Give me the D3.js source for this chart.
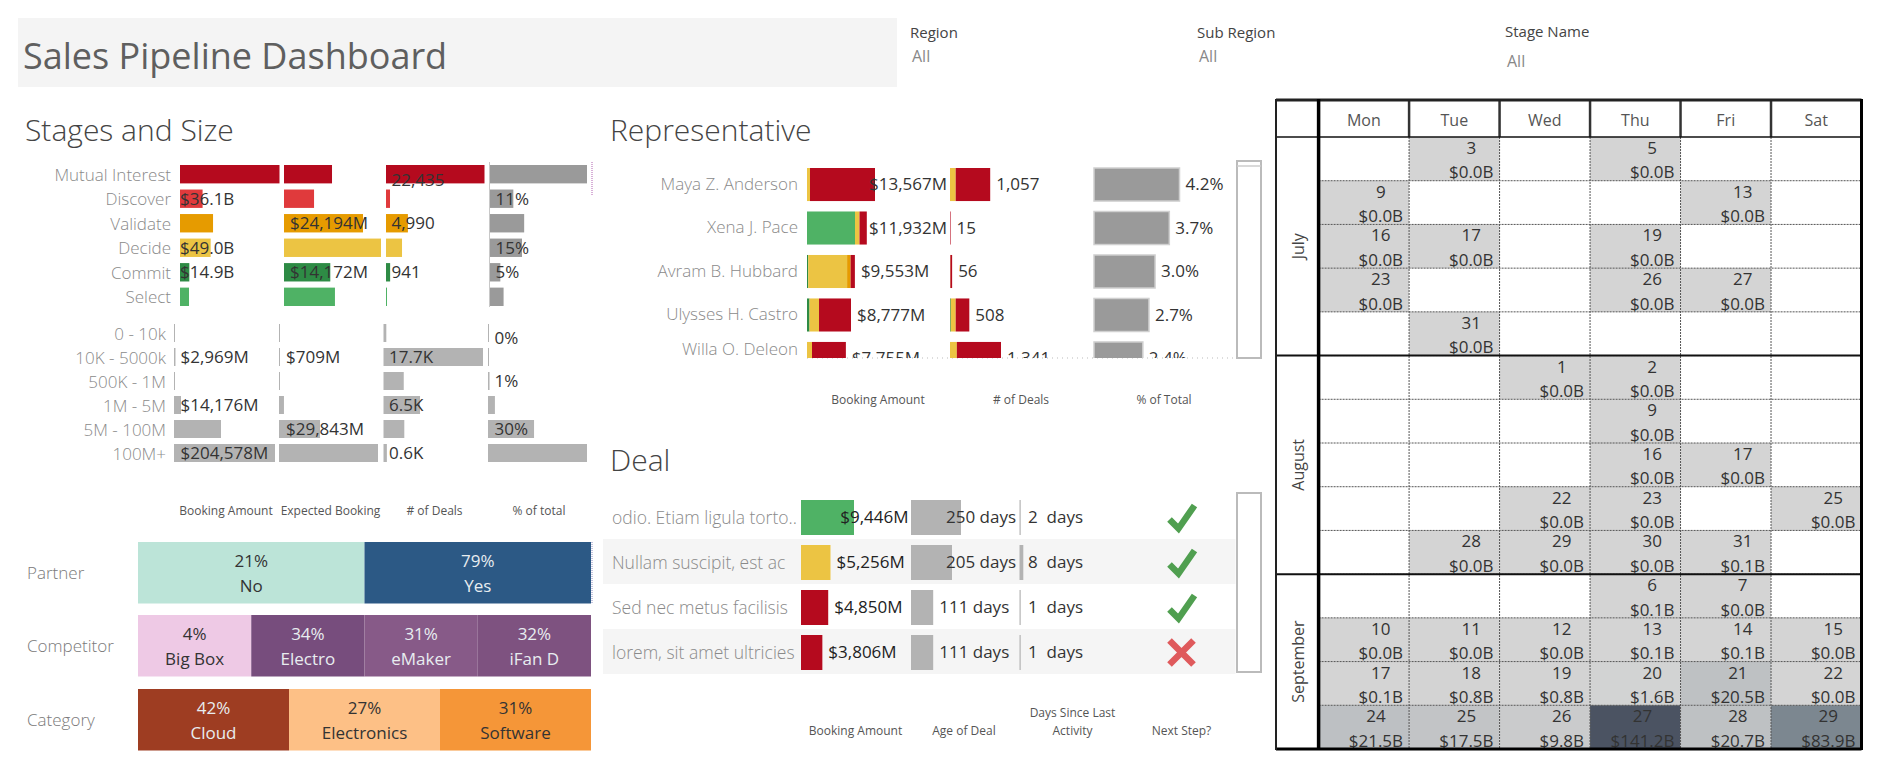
<!DOCTYPE html>
<html>
<head>
<meta charset="utf-8">
<title>Sales Pipeline Dashboard</title>
<script src="https://d3js.org/d3.v7.min.js"></script>
<style>
    body { margin: 0; background: #fff; }
    svg { display: block; font-family: "Open Sans", sans-serif; }
    text { font-size: 17px; fill: #333; }
    .rowname text, text.rowname { fill: #8a8a8a; font-weight: 300; }
    text.rowname { font-size: 17.5px; }
    .title { font-size: 30px; fill: #444; font-weight: 300; }
    .head { font-size: 12px; fill: #555; text-anchor: middle; }
    .axis path, .axis line { display: none; }
</style>
</head>
<body>
<div id="chart"></div>
<script>
// Stages and Size
var stages = ['Mutual Interest', 'Discover', 'Validate', 'Decide', 'Commit', 'Select'];
var stageColors = ['#b50a1e', '#e03a3c', '#e69b00', '#ecc443', '#2e8b45', '#4fb265'];
var stageBooking = [159, 36.1, 52.8, 49.0, 14.9, 14.4];
var stageExpected = [14700, 9200, 24194, 29700, 14172, 15600];
var stageDeals = [22435, 912, 4990, 3650, 941, 228];
var stageShare = [45, 11, 16, 15, 5, 6.5];
var stageBookingLabels = [null, '$36.1B', null, '$49.0B', '$14.9B', null];
var stageExpectedLabels = [null, null, '$24,194M', null, '$14,172M', null];
var stageDealLabels = ['22,435', null, '4,990', null, '941', null];
var stageShareLabels = [null, '11%', null, '15%', '5%', null];

var sizes = ['0 - 10k', '10K - 5000k', '500K - 1M', '1M - 5M', '5M - 100M', '100M+'];
var sizeBooking = [100, 2969, 900, 14176, 95200, 204578];
var sizeExpected = [40, 709, 300, 3600, 29843, 72000];
var sizeDeals = [500, 17700, 3600, 6500, 3700, 600];
var sizeShare = [0, 0.4, 1, 4.5, 30, 64.5];
var sizeBookingLabels = [null, '$2,969M', null, '$14,176M', null, '$204,578M'];
var sizeExpectedLabels = [null, '$709M', null, null, '$29,843M', null];
var sizeDealLabels = [null, '17.7K', null, '6.5K', null, '0.6K'];
var sizeShareLabels = ['0%', null, '1%', null, '30%', null];

// Highlight strips
var partnerNames = ['No', 'Yes'];
var partnerShare = ['21%', '79%'];
var partnerColors = ['#bce4d8', '#2c5985'];
var competitorNames = ['Big Box', 'Electro', 'eMaker', 'iFan D'];
var competitorShare = ['4%', '34%', '31%', '32%'];
var competitorColors = ['#eec9e5', '#774d7d', '#875a88', '#7e5280'];
var categoryNames = ['Cloud', 'Electronics', 'Software'];
var categoryShare = ['42%', '27%', '31%'];
var categoryColors = ['#9e3d22', '#fdc086', '#f59638'];

// Representative
var reps = ['Maya Z. Anderson', 'Xena J. Pace', 'Avram B. Hubbard', 'Ulysses H. Castro', 'Willa O. Deleon'];
var repStages = ['Select', 'Commit', 'Decide', 'Validate', 'Mutual Interest'];
var repBookingSelect = [0, 9576, 0, 0, 0];
var repBookingCommit = [0, 0, 250, 500, 0];
var repBookingDecide = [600, 900, 7750, 1900, 1000];
var repBookingValidate = [0, 0, 700, 0, 0];
var repBookingMutual = [12967, 1456, 853, 6377, 6755];
var repDealsSelect = [0, 0, 0, 0, 0];
var repDealsCommit = [0, 0, 1, 20, 0];
var repDealsDecide = [150, 0, 9, 130, 180];
var repDealsValidate = [0, 0, 0, 0, 0];
var repDealsMutual = [907, 15, 46, 358, 1161];
var repShare = [4.2, 3.7, 3.0, 2.7, 2.4];
var repBookingLabels = ['$13,567M', '$11,932M', '$9,553M', '$8,777M', '$7,755M'];
var repDealLabels = ['1,057', '15', '56', '508', '1,341'];
var repShareLabels = ['4.2%', '3.7%', '3.0%', '2.7%', '2.4%'];

// Deal
var deals = ['odio. Etiam ligula torto..', 'Nullam suscipit, est ac', 'Sed nec metus facilisis', 'lorem, sit amet ultricies'];
var dealBooking = [9446, 5256, 4850, 3806];
var dealColors = ['#4fb265', '#ecc443', '#b50a1e', '#b50a1e'];
var dealAge = [250, 205, 111, 111];
var dealSince = [2, 8, 1, 1];
var dealNext = [true, true, true, false];

// Calendar, one entry per filled cell
var weekdays = ['Mon', 'Tue', 'Wed', 'Thu', 'Fri', 'Sat'];
var months = ['July', 'August', 'September'];
var monthWeeks = [5, 5, 4];
var calWeek = [0, 0, 1, 1, 2, 2, 2, 3, 3, 3, 4,
    5, 5, 6, 7, 7, 8, 8, 8, 9, 9, 9, 9,
    10, 10, 11, 11, 11, 11, 11, 11, 12, 12, 12, 12, 12, 12, 13, 13, 13, 13, 13, 13];
var calDay = [1, 3, 0, 4, 0, 1, 3, 0, 3, 4, 1,
    2, 3, 3, 3, 4, 2, 3, 5, 1, 2, 3, 4,
    3, 4, 0, 1, 2, 3, 4, 5, 0, 1, 2, 3, 4, 5, 0, 1, 2, 3, 4, 5];
var calDate = [3, 5, 9, 13, 16, 17, 19, 23, 26, 27, 31,
    1, 2, 9, 16, 17, 22, 23, 25, 28, 29, 30, 31,
    6, 7, 10, 11, 12, 13, 14, 15, 17, 18, 19, 20, 21, 22, 24, 25, 26, 27, 28, 29];
var calAmount = [0, 0, 0, 0, 0, 0, 0, 0, 0, 0, 0,
    0, 0, 0, 0, 0, 0, 0, 0, 0, 0, 0, 0.1,
    0.1, 0, 0, 0, 0, 0.1, 0.1, 0, 0.1, 0.8, 0.8, 1.6, 20.5, 0, 21.5, 17.5, 9.8, 141.2, 20.7, 83.9];

var svg = d3.select('#chart').append('svg')
    .attr('width', 1880)
    .attr('height', 767);

function title(text, x, y) {
    svg.append('text').attr('class', 'title').attr('x', x).attr('y', y)
        .attr('dy', '0.35em').text(text);
}

function head(text, x, y) {
    svg.append('text').attr('class', 'head').attr('x', x).attr('y', y)
        .attr('dy', '0.35em').text(text);
}

// Row names go through a left axis without line or ticks.
function rowNames(scale, x, shift) {
    return svg.append('g').attr('class', 'axis rowname')
        .attr('transform', 'translate(' + x + ',' + shift + ')')
        .call(d3.axisLeft(scale).tickSize(0).tickPadding(0))
        .attr('font-family', null)
        .attr('font-size', null);
}

// One column of plain bars. Returns the x scale so labels can use it.
function barColumn(parent, rows, names, values, start, width, color, minWidth) {
    var x = d3.scaleLinear().domain([0, d3.max(values)]).range([start, start + width]);
    parent.append('g').selectAll('rect')
        .data(values)
        .join('rect')
        .attr('x', start)
        .attr('y', function (d, i) { return rows(names[i]); })
        .attr('width', function (d) { return Math.max(x(d) - start, minWidth); })
        .attr('height', rows.bandwidth())
        .attr('fill', function (d, i) { return typeof color === 'string' ? color : color[i]; });
    return x;
}

// shifts moves single labels off the bar centre, as some sit lower in the source.
function fixedLabels(parent, rows, names, labels, x, shifts) {
    parent.append('g').selectAll('text')
        .data(labels)
        .join('text')
        .attr('x', x)
        .attr('y', function (d, i) {
            return rows(names[i]) + rows.bandwidth() / 2 + (shifts ? shifts[i] : 0);
        })
        .attr('dy', '0.35em')
        .text(function (d) { return d; });
}

// Label sits after the bar, but is pushed back so it stops at the column limit.
function endLabels(parent, rows, names, labels, x, values, limit, fill) {
    parent.append('g').selectAll('text')
        .data(labels)
        .join('text')
        .attr('y', function (d, i) { return rows(names[i]) + rows.bandwidth() / 2; })
        .attr('dy', '0.35em')
        .style('fill', fill || null)
        .text(function (d) { return d; })
        .attr('x', function (d, i) {
            var after = x(values[i]) + 6;
            return Math.min(after, limit - this.getComputedTextLength());
        });
}

function stackColumn(parent, rows, names, series, start, width) {
    var table = names.map(function (name, i) {
        var row = {};
        repStages.forEach(function (stage, s) { row[stage] = series[s][i]; });
        return row;
    });
    var stacked = d3.stack().keys(repStages)(table);
    var x = d3.scaleLinear()
        .domain([0, d3.max(stacked[stacked.length - 1], function (d) { return d[1]; })])
        .range([start, start + width]);
    var color = d3.scaleOrdinal().domain(stages).range(stageColors);
    var layer = parent.append('g').selectAll('g')
        .data(stacked)
        .join('g')
        .attr('fill', function (d) { return color(d.key); });
    layer.selectAll('rect')
        .data(function (d) { return d; })
        .join('rect')
        .attr('x', function (d) { return x(d[0]); })
        .attr('y', function (d, i) { return rows(names[i]); })
        .attr('width', function (d) { return x(d[1]) - x(d[0]); })
        .attr('height', rows.bandwidth());
    return x;
}

// Header
svg.append('rect').attr('x', 18).attr('y', 18).attr('width', 879).attr('height', 69).attr('fill', '#f4f4f4');
svg.append('text').attr('x', 23).attr('y', 56).attr('dy', '0.35em')
    .style('font-size', '36px').style('fill', '#5f5f5f').text('Sales Pipeline Dashboard');

var filterNames = ['Region', 'Sub Region', 'Stage Name'];
var filterX = d3.scaleOrdinal().domain(filterNames).range([910, 1197, 1505]);
var filterY = d3.scaleOrdinal().domain(filterNames).range([33, 33, 32]);
var filterAllY = d3.scaleOrdinal().domain(filterNames).range([56, 56, 61]);
filterNames.forEach(function (name) {
    svg.append('text').attr('x', filterX(name)).attr('y', filterY(name)).attr('dy', '0.35em')
        .style('font-size', '15px').style('fill', '#444').text(name);
    svg.append('text').attr('x', filterX(name) + 2).attr('y', filterAllY(name)).attr('dy', '0.35em')
        .style('font-size', '16px').style('fill', '#888').text('All');
});

// Stages and Size
title('Stages and Size', 25, 130);

var stageRows = d3.scaleBand().domain(stages).range([165, 306]).paddingInner(0.25);
rowNames(stageRows, 171, 1);
var stageG = svg.append('g');
barColumn(stageG, stageRows, stages, stageBooking, 180, 99.5, stageColors, 1);
barColumn(stageG, stageRows, stages, stageExpected, 284, 97, stageColors, 1);
barColumn(stageG, stageRows, stages, stageDeals, 386, 98.5, stageColors, 1);
barColumn(stageG, stageRows, stages, stageShare, 489.5, 97.5, '#9a9a9a', 1);
svg.append('line').attr('x1', 489.5).attr('x2', 489.5).attr('y1', 162).attr('y2', 307)
    .attr('stroke', '#c8c8c8');
svg.append('line').attr('x1', 592).attr('x2', 592).attr('y1', 162).attr('y2', 195)
    .attr('stroke', '#b060b0').attr('stroke-dasharray', '1,1');
fixedLabels(stageG, stageRows, stages, stageBookingLabels, 180);
fixedLabels(stageG, stageRows, stages, stageExpectedLabels, 290);
fixedLabels(stageG, stageRows, stages, stageDealLabels, 391.5, [6, 0, 0, 0, 0, 0]);
fixedLabels(stageG, stageRows, stages, stageShareLabels, 495.5);

var sizeRows = d3.scaleBand().domain(sizes).range([324, 462]).paddingInner(0.25);
rowNames(sizeRows, 166, 2);
var sizeG = svg.append('g');
barColumn(sizeG, sizeRows, sizes, sizeBooking, 174, 101, '#b3b3b3', 1);
barColumn(sizeG, sizeRows, sizes, sizeExpected, 279, 99, '#b3b3b3', 1);
barColumn(sizeG, sizeRows, sizes, sizeDeals, 383.5, 99.5, '#b3b3b3', 1);
barColumn(sizeG, sizeRows, sizes, sizeShare, 488, 99, '#b3b3b3', 1);
fixedLabels(sizeG, sizeRows, sizes, sizeBookingLabels, 180.5);
fixedLabels(sizeG, sizeRows, sizes, sizeExpectedLabels, 286);
fixedLabels(sizeG, sizeRows, sizes, sizeDealLabels, 389);
fixedLabels(sizeG, sizeRows, sizes, sizeShareLabels, 494.5, [5, 0, 0, 0, 0, 0]);

head('Booking Amount', 226, 511);
head('Expected Booking', 330.5, 511);
head('# of Deals', 434.5, 511);
head('% of total', 539, 511);

// Partner, Competitor, Category strips. Cells are equal width, colour carries the value.
function strip(label, names, shares, colors, top) {
    var x = d3.scaleBand().domain(names).range([138, 591]);
    var cell = svg.append('g').selectAll('g')
        .data(names)
        .join('g')
        .attr('transform', function (d) { return 'translate(' + x(d) + ',' + top + ')'; });
    cell.append('rect')
        .attr('width', x.bandwidth())
        .attr('height', 61.5)
        .attr('fill', function (d, i) { return colors[i]; });
    function ink(i) {
        var c = d3.hsl(colors[i]);
        return c.l > 0.55 ? '#333' : '#e8edf0';
    }
    cell.append('text')
        .attr('x', x.bandwidth() / 2).attr('y', 19).attr('dy', '0.35em')
        .attr('text-anchor', 'middle')
        .style('fill', function (d, i) { return ink(i); })
        .text(function (d, i) { return shares[i]; });
    cell.append('text')
        .attr('x', x.bandwidth() / 2).attr('y', 44.5).attr('dy', '0.35em')
        .attr('text-anchor', 'middle')
        .style('fill', function (d, i) { return ink(i); })
        .text(function (d) { return d; });
    svg.append('text').attr('x', 27).attr('y', top + 31).attr('dy', '0.35em')
        .style('fill', '#7a7a7a').style('font-weight', 300).text(label);
}
strip('Partner', partnerNames, partnerShare, partnerColors, 542);
strip('Competitor', competitorNames, competitorShare, competitorColors, 615);
strip('Category', categoryNames, categoryShare, categoryColors, 689);
svg.append('line').attr('x1', 592).attr('x2', 592).attr('y1', 542).attr('y2', 604)
    .attr('stroke', '#8a8ac0').attr('stroke-dasharray', '1,1');

// Representative
title('Representative', 610, 130);

var repRows = d3.scaleBand().domain(reps).range([168, 375]).paddingInner(0.24);
// The last name stays in view although its bar is cut by the scroll edge.
rowNames(repRows, 798, 0)
    .selectAll('.tick').filter(function (d) { return d === reps[4]; })
    .attr('transform', function (d) { return 'translate(0,' + (repRows(d) + 8) + ')'; });

svg.append('clipPath').attr('id', 'repClip').append('rect')
    .attr('x', 800).attr('y', 160).attr('width', 436).attr('height', 198);
svg.append('line').attr('x1', 807).attr('x2', 1236).attr('y1', 358).attr('y2', 358)
    .attr('stroke', '#bbb').attr('stroke-dasharray', '1,4');
var repG = svg.append('g').attr('clip-path', 'url(#repClip)');
var repX1 = stackColumn(repG, repRows, reps,
    [repBookingSelect, repBookingCommit, repBookingDecide, repBookingValidate, repBookingMutual], 807, 68);
var repX2 = stackColumn(repG, repRows, reps,
    [repDealsSelect, repDealsCommit, repDealsDecide, repDealsValidate, repDealsMutual], 950, 51);
var repBar3 = barColumn(repG, repRows, reps, repShare, 1094, 85.5, '#9a9a9a', 1);
repG.selectAll('rect').filter(function () { return this.getAttribute('fill') === '#9a9a9a'; })
    .attr('stroke', '#d0d0d0').attr('stroke-width', 1.5);

var repBookingTotals = reps.map(function (r, i) {
    return repBookingSelect[i] + repBookingCommit[i] + repBookingDecide[i] + repBookingValidate[i] + repBookingMutual[i];
});
var repDealTotals = reps.map(function (r, i) {
    return repDealsSelect[i] + repDealsCommit[i] + repDealsDecide[i] + repDealsValidate[i] + repDealsMutual[i];
});
endLabels(repG, repRows, reps, repBookingLabels, repX1, repBookingTotals, 947);
endLabels(repG, repRows, reps, repDealLabels, repX2, repDealTotals, 1090);
endLabels(repG, repRows, reps, repShareLabels, repBar3, repShare, 1236);

function scrollFrame(top, bottom) {
    svg.append('rect').attr('x', 1237).attr('y', top).attr('width', 24).attr('height', bottom - top)
        .attr('fill', 'none').attr('stroke', '#bbb').attr('stroke-width', 2);
}
scrollFrame(161, 358);
svg.append('line').attr('x1', 1237).attr('x2', 1261).attr('y1', 166).attr('y2', 166)
    .attr('stroke', '#ccc').attr('stroke-width', 1.5);

head('Booking Amount', 878, 400);
head('# of Deals', 1021, 400);
head('% of Total', 1164, 400);

// Deal
title('Deal', 610, 460);

var dealRows = d3.scaleBand().domain(deals).range([500, 670]).paddingInner(0.2222);
svg.append('g').selectAll('rect')
    .data(deals.filter(function (d, i) { return i % 2 === 1; }))
    .join('rect')
    .attr('x', 603)
    .attr('y', function (d) { return dealRows(d) - 6; })
    .attr('width', 632.5)
    .attr('height', dealRows.step())
    .attr('fill', '#f5f5f5');

var dealG = svg.append('g');
dealG.append('g').selectAll('text')
    .data(deals)
    .join('text')
    .attr('class', 'rowname')
    .attr('x', 612)
    .attr('y', function (d) { return dealRows(d) + dealRows.bandwidth() / 2; })
    .attr('dy', '0.35em')
    .text(function (d) { return d; });

var dealX1 = barColumn(dealG, dealRows, deals, dealBooking, 801, 53, dealColors, 1);
var dealX2 = barColumn(dealG, dealRows, deals, dealAge, 911, 50, '#b3b3b3', 1);
var dealX3 = barColumn(dealG, dealRows, deals, dealSince, 1019.5, 3.8, '#b3b3b3', 1.2);
endLabels(dealG, dealRows, deals, dealBooking.map(function (d) { return '$' + d3.format(',')(d) + 'M'; }),
    dealX1, dealBooking, 908.5, '#222');
endLabels(dealG, dealRows, deals, dealAge.map(function (d) { return d + ' days'; }),
    dealX2, dealAge, 1016);
fixedLabels(dealG, dealRows, deals, dealSince.map(function (d) { return d + '  days'; }), 1028);
dealG.selectAll('text').style('white-space', 'pre');

// Next step marks: a tick or a cross around the row centre.
var checkPath = d3.line()([[-12, 2], [-3, 11], [13, -12]]);
var crossPath = 'M-12,-12L12,12M12,-12L-12,12';
svg.append('g').selectAll('path')
    .data(dealNext)
    .join('path')
    .attr('transform', function (d, i) {
        return 'translate(1181.5,' + (dealRows(deals[i]) + dealRows.bandwidth() / 2) + ')';
    })
    .attr('d', function (d) { return d ? checkPath : crossPath; })
    .attr('fill', 'none')
    .attr('stroke', function (d) { return d ? '#509f50' : '#df5a5c'; })
    .attr('stroke-width', 6.5);

scrollFrame(493, 672);

head('Booking Amount', 855.5, 731);
head('Age of Deal', 964, 731);
head('Days Since Last', 1072.5, 713);
head('Activity', 1072.5, 731);
head('Next Step?', 1181.5, 731);

// Calendar
var weekCount = d3.sum(monthWeeks);
var calX = d3.scaleBand().domain(weekdays).range([1318.6, 1861.5]);
var calY = d3.scaleBand().domain(d3.range(weekCount)).range([137, 749]);
var calColor = d3.scaleLinear().domain([0, 83.9, 141.2]).range(['#d4d4d4', '#7c8790', '#4b5362']);
var calG = svg.append('g');

var calCells = calDate.map(function (date, i) {
    return { date: date, week: calWeek[i], day: weekdays[calDay[i]], amount: calAmount[i] };
});

calG.append('g').selectAll('rect')
    .data(calCells)
    .join('rect')
    .attr('x', function (d) { return calX(d.day); })
    .attr('y', function (d) { return calY(d.week); })
    .attr('width', calX.bandwidth())
    .attr('height', calY.bandwidth())
    .attr('fill', function (d) { return calColor(d.amount); });

// Dotted grid inside the weeks
var calGrid = calG.append('g').attr('stroke', '#555').attr('stroke-dasharray', '2,1');
calGrid.selectAll('.week')
    .data(d3.range(1, weekCount))
    .join('line')
    .attr('class', 'week')
    .attr('x1', 1318.6).attr('x2', 1861.5)
    .attr('y1', function (d) { return calY(d); })
    .attr('y2', function (d) { return calY(d); });
calGrid.selectAll('.day')
    .data(weekdays.slice(1))
    .join('line')
    .attr('class', 'day')
    .attr('x1', function (d) { return calX(d); })
    .attr('x2', function (d) { return calX(d); })
    .attr('y1', 137).attr('y2', 749);

// Amount stops 6px from the cell edge, date is centred over it.
var calCell = calG.append('g').selectAll('g')
    .data(calCells)
    .join('g')
    .attr('transform', function (d) {
        return 'translate(' + (calX(d.day) + calX.bandwidth() - 6) + ',' + calY(d.week) + ')';
    });
calCell.append('text')
    .attr('class', 'amount')
    .attr('y', 35.5).attr('dy', '0.35em')
    .attr('text-anchor', 'end')
    .text(function (d) { return '$' + d3.format('.1f')(d.amount) + 'B'; });
calCell.append('text')
    .attr('y', 11).attr('dy', '0.35em')
    .attr('text-anchor', 'middle')
    .attr('x', function () {
        return -this.parentNode.querySelector('.amount').getComputedTextLength() / 2;
    })
    .text(function (d) { return d.date; });

// Header row
calG.append('g').selectAll('text')
    .data(weekdays)
    .join('text')
    .attr('x', function (d) { return calX(d) + calX.bandwidth() / 2; })
    .attr('y', 120.5).attr('dy', '0.35em')
    .attr('text-anchor', 'middle')
    .style('font-size', '16px')
    .style('fill', '#555')
    .text(function (d) { return d; });
calG.append('g').attr('stroke', '#333').attr('stroke-width', 2.5).selectAll('line')
    .data(weekdays.slice(1))
    .join('line')
    .attr('x1', function (d) { return calX(d); })
    .attr('x2', function (d) { return calX(d); })
    .attr('y1', 100).attr('y2', 137);

// Month blocks
var monthEnd = d3.cumsum(monthWeeks);
months.forEach(function (month, i) {
    var first = i === 0 ? 0 : monthEnd[i - 1];
    var yTop = calY(first);
    var yBottom = calY(monthEnd[i] - 1) + calY.bandwidth();
    calG.append('line').attr('x1', 1276).attr('x2', 1861.5).attr('y1', yBottom).attr('y2', yBottom)
        .attr('stroke', '#111').attr('stroke-width', 2);
    calG.append('text')
        .attr('transform', 'translate(1298,' + (yTop + yBottom) / 2 + ') rotate(-90)')
        .attr('dy', '0.35em')
        .attr('text-anchor', 'middle')
        .style('font-size', '16px')
        .style('fill', '#444')
        .text(month);
});

var calFrame = calG.append('g').attr('fill', 'none');
calFrame.append('line').attr('x1', 1276).attr('x2', 1861.5).attr('y1', 100).attr('y2', 100)
    .attr('stroke', '#222').attr('stroke-width', 3);
calFrame.append('line').attr('x1', 1276).attr('x2', 1861.5).attr('y1', 137).attr('y2', 137)
    .attr('stroke', '#111').attr('stroke-width', 1.5);
calFrame.append('line').attr('x1', 1276).attr('x2', 1861.5).attr('y1', 749).attr('y2', 749)
    .attr('stroke', '#000').attr('stroke-width', 3);
calFrame.append('line').attr('x1', 1276).attr('x2', 1276).attr('y1', 99).attr('y2', 750)
    .attr('stroke', '#222').attr('stroke-width', 2);
calFrame.append('line').attr('x1', 1318.6).attr('x2', 1318.6).attr('y1', 99).attr('y2', 750)
    .attr('stroke', '#000').attr('stroke-width', 3.5);
calFrame.append('line').attr('x1', 1861.5).attr('x2', 1861.5).attr('y1', 99).attr('y2', 750)
    .attr('stroke', '#000').attr('stroke-width', 3);
</script>
</body>
</html>
